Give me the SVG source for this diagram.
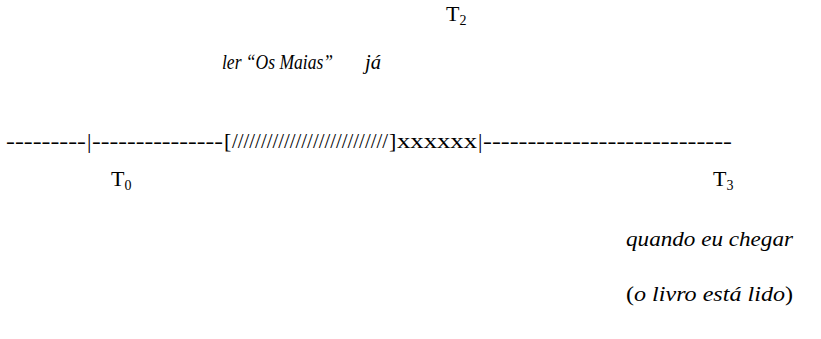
<svg xmlns="http://www.w3.org/2000/svg" width="821" height="339" viewBox="0 0 821 339">
<style>
text{font-family:"Liberation Serif","Times New Roman",serif;font-size:22px;fill:#000}
.i{font-style:italic}
.sub{font-size:14px}
</style>
<rect width="821" height="339" fill="#fff"/>
<g id="t2"><text x="446" y="21">T<tspan class="sub" dy="4">2</tspan></text></g>
<g id="event"><text class="i" x="222" y="69" textLength="111" lengthAdjust="spacingAndGlyphs">ler “Os Maias”</text>
<text class="i" x="365" y="69" textLength="16" lengthAdjust="spacingAndGlyphs">já</text></g>
<g id="timeline"><text y="148"><tspan x="6" textLength="80" lengthAdjust="spacingAndGlyphs">---------</tspan><tspan x="87">|</tspan><tspan x="92" textLength="131" lengthAdjust="spacingAndGlyphs">---------------</tspan><tspan x="224">[</tspan><tspan x="232" textLength="156" lengthAdjust="spacingAndGlyphs">///////////////////////////</tspan><tspan x="389">]</tspan><tspan x="397" textLength="80" lengthAdjust="spacingAndGlyphs">xxxxxx</tspan><tspan x="478">|</tspan><tspan x="483" textLength="249" lengthAdjust="spacingAndGlyphs">----------------------------</tspan></text></g>
<g id="t0"><text x="111" y="186">T<tspan class="sub" dy="4">0</tspan></text></g>
<g id="t3"><text x="713" y="186">T<tspan class="sub" dy="4">3</tspan></text></g>
<g id="when"><text class="i" x="626" y="246" textLength="167" lengthAdjust="spacingAndGlyphs">quando eu chegar</text>
<text x="626" y="301" textLength="167" lengthAdjust="spacingAndGlyphs">(<tspan class="i">o livro está lido</tspan>)</text></g>
</svg>
